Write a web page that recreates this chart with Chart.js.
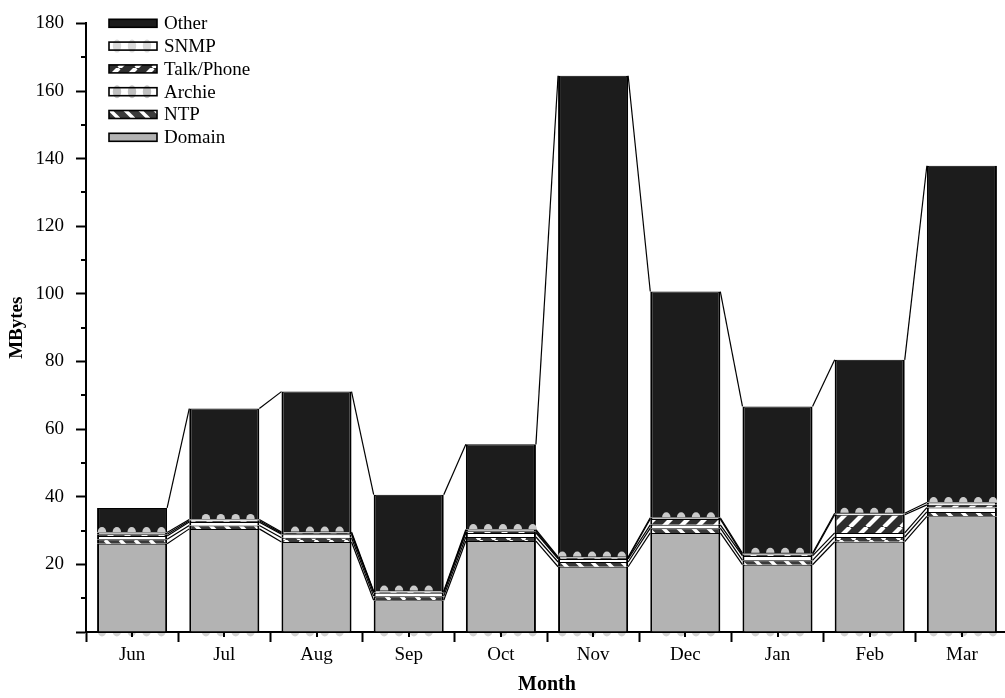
<!DOCTYPE html>
<html>
<head>
<meta charset="utf-8">
<script src="https://cdn.jsdelivr.net/npm/chart.js@4.4.1/dist/chart.umd.min.js"></script>
<style>
  html, body { margin: 0; padding: 0; background: #fff; overflow: hidden; }
  canvas { display: block; }
</style>
</head>
<body>
<canvas id="c" width="1010" height="698"></canvas>
<script>
// Monthly traffic by service (MBytes), stacked bottom-up
const months    = ['Jun', 'Jul', 'Aug', 'Sep', 'Oct', 'Nov', 'Dec', 'Jan', 'Feb', 'Mar'];
const domain    = [26.1, 30.5, 26.6, 9.4, 26.9, 19.3, 29.3, 19.9, 26.7, 34.2];
const ntp       = [1.3, 1.0, 1.3, 1.2, 1.2, 1.4, 1.4, 1.3, 1.4, 1.3];
const archie    = [1.0, 1.0, 1.0, 1.0, 1.2, 0.9, 1.0, 1.3, 1.2, 1.3];
const talkPhone = [0.5, 0.4, 0.35, 0.25, 0.5, 0.3, 1.7, 0.4, 5.4, 0.8];
const snmp      = [0.5, 0.4, 0.35, 0.25, 0.5, 0.3, 0.4, 0.4, 0.4, 0.7];
const other     = [7.3, 32.8, 41.5, 28.5, 25.2, 142.3, 66.9, 43.4, 45.4, 99.6];
const yTickValues = [0, 20, 40, 60, 80, 100, 120, 140, 160, 180];
const yTickLabels = ['', '20', '40', '60', '80', '100', '120', '140', '160', '180'];

const FONT = '"Liberation Serif", "Times New Roman", serif';
const canvas = document.getElementById('c');
const ctx = canvas.getContext('2d');

// Diagonal hatch fill: forward = "/" stripes, otherwise "\" stripes
function stripePattern(forward, dark, light, size, lw) {
  const t = document.createElement('canvas');
  t.width = t.height = size;
  const g = t.getContext('2d');
  g.fillStyle = dark;
  g.fillRect(0, 0, size, size);
  g.strokeStyle = light;
  g.lineWidth = lw;
  for (const o of [-size, 0, size]) {
    g.beginPath();
    if (forward) { g.moveTo(o, size); g.lineTo(o + size, 0); }
    else { g.moveTo(o, 0); g.lineTo(o + size, size); }
    g.stroke();
  }
  return ctx.createPattern(t, 'repeat');
}

const ntpFill  = stripePattern(false, '#3a3a3a', '#ffffff', 15, 3.4);
const talkFill = stripePattern(true, '#2e2e2e', '#ffffff', 17, 4.2);

const DOT_PERIOD = 14.85, DOT_PHASE = 12.9, DOT_RX = 4.2, DOT_RY = 5;
function dotCenters(left, right, r) {
  const xs = [];
  let k = Math.ceil((left + r - DOT_PHASE) / DOT_PERIOD);
  for (;; k++) {
    const x = DOT_PHASE + k * DOT_PERIOD;
    if (x > right - r) break;
    xs.push(x);
  }
  return xs;
}

const seriesDefs = [
  { label: 'Domain',     data: domain,    fill: '#b3b3b3' },
  { label: 'NTP',        data: ntp,       fill: ntpFill },
  { label: 'Archie',     data: archie,    fill: '#ffffff' },
  { label: 'Talk/Phone', data: talkPhone, fill: talkFill },
  { label: 'SNMP',       data: snmp,      fill: '#ffffff' },
  { label: 'Other',      data: other,     fill: '#1c1c1c' }
];

// Dotted rims, connecting lines, minor ticks and the inset legend
const decor = {
  id: 'decor',
  beforeDraw(chart) {
    const c = chart.ctx;
    const meta = chart.getDatasetMeta(0);
    c.save();
    c.fillStyle = '#d2d2d2';
    meta.data.forEach(el => {
      const l = el.x - el.width / 2, r = el.x + el.width / 2;
      dotCenters(l, r, 3.2).forEach(x => {
        c.beginPath();
        c.ellipse(x, el.base, DOT_RX, DOT_RY, 0, 0, Math.PI);
        c.fill();
      });
    });
    c.restore();
  },
  afterDatasetsDraw(chart) {
    const c = chart.ctx;
    c.save();
    // lines joining each segment top to the next month's
    c.strokeStyle = '#000';
    c.lineWidth = 1.2;
    chart.data.datasets.forEach((ds, di) => {
      const pts = chart.getDatasetMeta(di).data;
      for (let i = 0; i < pts.length - 1; i++) {
        const a = pts[i], b = pts[i + 1];
        c.beginPath();
        c.moveTo(a.x + a.width / 2, a.y);
        c.lineTo(b.x - b.width / 2, b.y);
        c.stroke();
      }
    });
    // dots resting on top of the SNMP layer
    c.fillStyle = '#cbcbcb';
    chart.getDatasetMeta(4).data.forEach(el => {
      const l = el.x - el.width / 2, r = el.x + el.width / 2;
      dotCenters(l, r, 3.2).forEach(x => {
        c.beginPath();
        c.ellipse(x, el.y - 0.5, DOT_RX, DOT_RY, 0, Math.PI, 2 * Math.PI);
        c.fill();
      });
    });
    c.restore();
  },
  afterDraw(chart) {
    const c = chart.ctx;
    const xs = chart.scales.x, ys = chart.scales.y;
    c.save();
    c.strokeStyle = '#000';
    c.lineWidth = 2;
    // minor ticks
    for (let v = 10; v < 180; v += 20) {
      const y = Math.round(ys.getPixelForValue(v));
      c.beginPath(); c.moveTo(ys.right - 5, y); c.lineTo(ys.right, y); c.stroke();
    }
    months.forEach((m, i) => {
      const x = Math.round(xs.getPixelForValue(i));
      c.beginPath(); c.moveTo(x, xs.top); c.lineTo(x, xs.top + 5); c.stroke();
    });
    // legend
    const rows = [
      { label: 'Other', fill: '#1c1c1c' },
      { label: 'SNMP', fill: '#ffffff', dots: '#d9d9d9' },
      { label: 'Talk/Phone', fill: talkFill },
      { label: 'Archie', fill: '#ffffff', dots: '#c0c0c0' },
      { label: 'NTP', fill: ntpFill },
      { label: 'Domain', fill: '#b3b3b3' }
    ];
    c.font = '19px ' + FONT;
    c.textBaseline = 'middle';
    rows.forEach((row, i) => {
      const cy = 23.3 + i * 22.8;
      const bx = 109, bw = 48, bh = 8, by = cy - bh / 2;
      c.fillStyle = row.fill;
      c.fillRect(bx, by, bw, bh);
      if (row.dots) {
        c.fillStyle = row.dots;
        [117, 132, 147].forEach(x => {
          c.beginPath(); c.ellipse(x, cy, 4.2, 6.5, 0, 0, 2 * Math.PI); c.fill();
        });
      }
      c.lineWidth = 1.6;
      c.strokeStyle = '#000';
      c.strokeRect(bx, by, bw, bh);
      c.fillStyle = '#000';
      c.fillText(row.label, 164, cy + 1);
    });
    c.restore();
  }
};

new Chart(canvas, {
  type: 'bar',
  data: {
    labels: months,
    datasets: seriesDefs.map(s => ({
      label: s.label,
      data: s.data,
      backgroundColor: s.fill,
      borderColor: '#000',
      borderWidth: { top: 1, left: 2, right: 2, bottom: 0 },
      borderSkipped: false,
      categoryPercentage: 1,
      barPercentage: 0.76
    }))
  },
  options: {
    responsive: false,
    devicePixelRatio: 1,
    animation: false,
    layout: { padding: { top: 16, right: 2, left: 0, bottom: 0 } },
    plugins: { legend: { display: false }, tooltip: { enabled: false } },
    scales: {
      x: {
        stacked: true,
        offset: true,
        grid: { offset: true, drawOnChartArea: false, tickLength: 10, tickWidth: 2, tickColor: '#000' },
        border: { color: '#000', width: 2 },
        ticks: { color: '#000', font: { family: FONT, size: 19 }, padding: 2, maxRotation: 0 },
        title: { display: true, text: 'Month', color: '#000', font: { family: FONT, size: 20, weight: 'bold' }, padding: { top: 0, bottom: 1 } },
        afterFit: s => { s.height = 66; }
      },
      y: {
        stacked: true,
        min: 0,
        max: 180,
        afterBuildTicks: s => { s.ticks = yTickValues.map(v => ({ value: v })); },
        grid: { drawOnChartArea: false, tickLength: 10, tickWidth: 2, tickColor: '#000' },
        border: { color: '#000', width: 2 },
        ticks: {
          color: '#000', font: { family: FONT, size: 19 }, padding: 12,
          callback: v => yTickLabels[yTickValues.indexOf(v)]
        },
        title: { display: true, text: 'MBytes', color: '#000', font: { family: FONT, size: 19, weight: 'bold' }, padding: { top: 6, bottom: 0 } },
        afterFit: s => { s.width = 86; }
      }
    }
  },
  plugins: [decor]
});
</script>
</body>
</html>
